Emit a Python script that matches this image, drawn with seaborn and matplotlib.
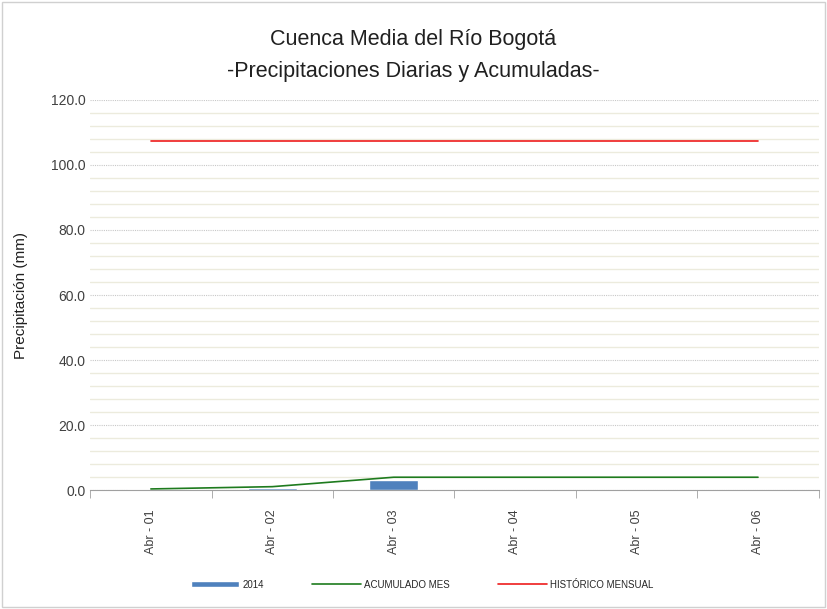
import matplotlib
matplotlib.use("Agg")
import matplotlib.pyplot as plt
import pandas as pd
import seaborn as sns
from matplotlib.ticker import MultipleLocator, FixedLocator, NullFormatter
from matplotlib.patches import Patch

# data
days = ['Abr - 01', 'Abr - 02', 'Abr - 03', 'Abr - 04', 'Abr - 05', 'Abr - 06']
daily_2014 = [0.4, 0.7, 3.2, 0.0, 0.0, 0.0]
acumulado = [0.4, 1.1, 4.0, 4.0, 4.0, 4.0]
historico = [107.3, 107.3, 107.3, 107.3, 107.3, 107.3]

df = pd.DataFrame({'dia': days, '2014': daily_2014,
                   'ACUMULADO MES': acumulado, 'HISTÓRICO MENSUAL': historico})
df['pos'] = range(len(days))

sns.set_style('white')
plt.rcParams['font.family'] = ['Liberation Sans', 'DejaVu Sans']

fig = plt.figure(figsize=(8.27, 6.09), dpi=100)
ax = fig.add_axes([0.109, 0.195, 0.881, 0.641])

bar_col = '#4f81bd'
sns.barplot(data=df, x='pos', y='2014', color=bar_col, width=0.4,
            saturation=1, ax=ax, native_scale=True)
sns.lineplot(data=df, x='pos', y='ACUMULADO MES', color='#1e7b1e', lw=1.2,
             ax=ax, label='ACUMULADO MES')
sns.lineplot(data=df, x='pos', y='HISTÓRICO MENSUAL', color='#ee1c1c', lw=1.2,
             ax=ax, label='HISTÓRICO MENSUAL')

ax.set_xlim(-0.5, len(days) - 0.5)
ax.set_ylim(0, 120)
ax.yaxis.set_major_locator(MultipleLocator(20))
ax.yaxis.set_minor_locator(MultipleLocator(4))
ax.set_yticklabels([f'{v:.1f}' for v in ax.get_yticks()], fontsize=10, color='#404040')
ax.grid(axis='y', which='minor', color='#ecebdd', lw=1)
ax.grid(axis='y', which='major', color='#c8c8c8', lw=0.8, ls=(0, (1, 1)))
ax.set_axisbelow(True)

ax.set_xticks(range(len(days)))
ax.set_xticklabels(days, rotation=90, fontsize=9, color='#404040')
ax.tick_params(axis='x', which='major', length=0, pad=14)
ax.xaxis.set_minor_locator(FixedLocator([i - 0.5 for i in range(len(days) + 1)]))
ax.xaxis.set_minor_formatter(NullFormatter())
ax.tick_params(axis='x', which='minor', length=6, color='#a0a0a0', bottom=True)
ax.tick_params(axis='y', length=0)

for s in ['top', 'right', 'left']:
    ax.spines[s].set_visible(False)
ax.spines['bottom'].set_color('#a0a0a0')

ax.set_xlabel('')
ax.set_ylabel('Precipitación (mm)', fontsize=11, color='#202020')
ax.yaxis.set_label_coords(-0.085, 0.5)

fig.text(0.5, 0.935, 'Cuenca Media del Río Bogotá', ha='center', va='center',
         fontsize=15.5, color='#202020')
fig.text(0.5, 0.882, '-Precipitaciones Diarias y Acumuladas-', ha='center', va='center',
         fontsize=15.5, color='#202020')

h, l = ax.get_legend_handles_labels()
handles = [Patch(facecolor=bar_col)] + h
labels = ['2014'] + l
ax.legend(handles, labels, loc='center', bbox_to_anchor=(0.51, 0.04),
          bbox_transform=fig.transFigure, ncol=3, frameon=False, fontsize=7,
          handlelength=5, handleheight=0.6, columnspacing=5, handletextpad=0.3)

fig.patches.append(plt.Rectangle((0.003, 0.003), 0.994, 0.994, transform=fig.transFigure,
                                 fill=False, edgecolor='#d0d0d0', lw=1))

fig.savefig('out.png', dpi=100)
